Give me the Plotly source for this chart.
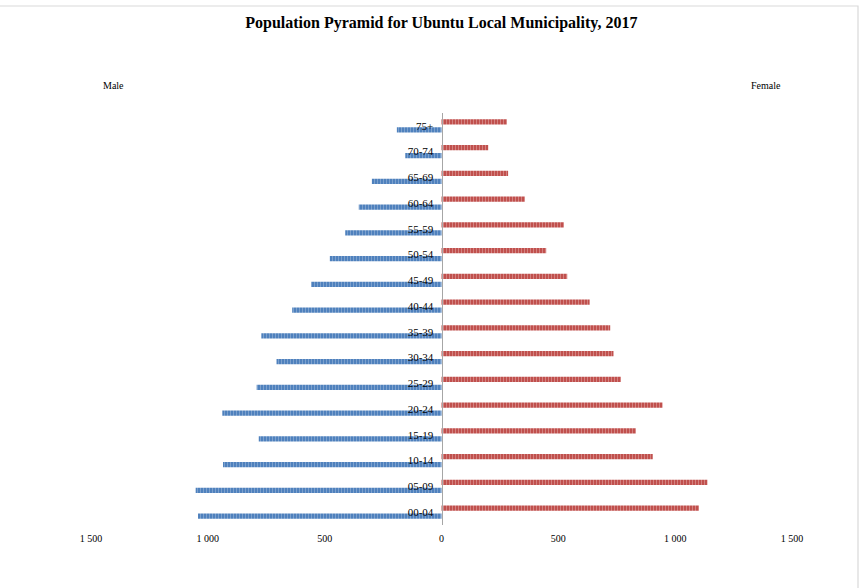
import plotly.graph_objects as go

# ---- data ----
age_groups = ["00-04", "05-09", "10-14", "15-19", "20-24", "25-29", "30-34", "35-39",
              "40-44", "45-49", "50-54", "55-59", "60-64", "65-69", "70-74", "75+"]
male = [1042, 1052, 935, 782, 938, 791, 706, 771, 639, 558, 478, 412, 354, 298, 155, 191]
female = [1102, 1138, 904, 832, 946, 768, 736, 722, 634, 538, 448, 524, 357, 285, 200, 280]
tick_values = [-1500, -1000, -500, 0, 500, 1000, 1500]
tick_labels = ["1 500", "1 000", "500", "0", "500", "1 000", "1 500"]
title_text = "Population Pyramid for Ubuntu Local Municipality, 2017"

serif = "Liberation Serif, Times New Roman, serif"

ML, MR, MT, MB = 91, 70, 113, 63
W, H = 862, 588
pw = W - ML - MR
ph = H - MT - MB


def px_to_paper(px, py):
    return (px - ML) / pw, 1 - (py - MT) / ph


fig = go.Figure()
fig.add_trace(go.Bar(
    name="Male", y=age_groups, x=[-v for v in male], orientation="h",
    marker=dict(color="#4F81BD", line=dict(width=0),
                pattern=dict(shape="|", fgcolor="#A9C1E0", bgcolor="#4F81BD",
                             size=3, solidity=0.35)),
))
fig.add_trace(go.Bar(
    name="Female", y=age_groups, x=female, orientation="h",
    marker=dict(color="#C0504D", line=dict(width=0),
                pattern=dict(shape="|", fgcolor="#E8B4B3", bgcolor="#C0504D",
                             size=3, solidity=0.35)),
))

mx, my = px_to_paper(113, 86)
fx, fy = px_to_paper(766, 86)

# chart-area frame (top and right edges visible in the reference)
x0, y0 = px_to_paper(-5, 6)
x1, y1 = px_to_paper(858, 595)

fig.update_layout(
    width=W, height=H,
    margin=dict(l=ML, r=MR, t=MT, b=MB),
    paper_bgcolor="white", plot_bgcolor="white",
    barmode="group", bargap=0.38, bargroupgap=0.34,
    showlegend=False,
    font=dict(family=serif, color="black", size=10),
    title=dict(text="<b>" + title_text + "</b>", x=0.512, xanchor="center",
               y=0.962, yanchor="middle", font=dict(family=serif, size=16, color="black")),
    xaxis=dict(range=[-1500, 1500], tickvals=tick_values, ticktext=tick_labels,
               showgrid=False, zeroline=False, showline=False, ticks="",
               ticklabelstandoff=6, tickfont=dict(family=serif, size=10)),
    yaxis=dict(type="category", categoryorder="array", categoryarray=age_groups,
               anchor="free", position=0.5, showline=True, linecolor="#A6A6A6",
               linewidth=1, showgrid=False, ticks="", ticklabelstandoff=6,
               tickfont=dict(family=serif, size=11)),
    annotations=[
        dict(text="Male", x=mx, y=my, xref="paper", yref="paper", showarrow=False,
             xanchor="center", yanchor="middle", font=dict(family=serif, size=10)),
        dict(text="Female", x=fx, y=fy, xref="paper", yref="paper", showarrow=False,
             xanchor="center", yanchor="middle", font=dict(family=serif, size=10)),
    ],
    shapes=[
        dict(type="rect", xref="paper", yref="paper", x0=x0, x1=x1, y0=y1, y1=y0,
             line=dict(color="#D9D9D9", width=1.2), fillcolor="rgba(0,0,0,0)", layer="below"),
    ],
)

fig.write_html("out.html")
